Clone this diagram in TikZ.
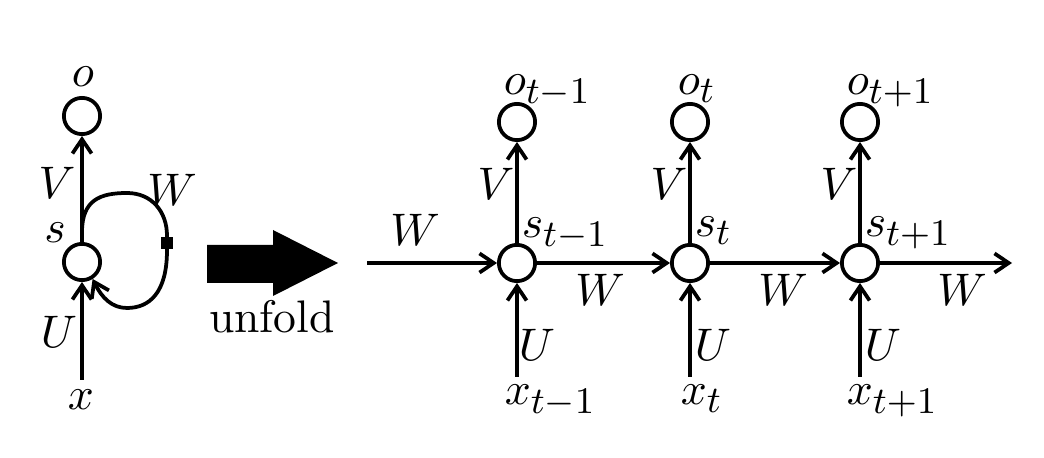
\documentclass[tikz,border=0pt]{standalone}
\usetikzlibrary{arrows.meta}
\DeclareMathSizes{10.95}{10.95}{9}{7}
\begin{document}
\begin{tikzpicture}[x=0.24pt,y=-0.24pt,
  every node/.style={font=\fontsize{10.95}{13}\selectfont},
  unit/.style={circle,draw,line width=0.9pt,minimum size=8.7pt,inner sep=0pt},
  lbl/.style={inner sep=0pt},
  tip/.style={-{Straight Barb[length=3.4pt,width=4.6pt]}},
  conn/.style={line width=0.9pt,tip},
]
\useasboundingbox (0,0) rectangle (1044,458);
% ---------- folded network ----------
\node[unit] (o) at (82,116) {};
\node[unit] (s) at (82,262) {};
\node[lbl,anchor=base] (ol) at (83,87) {$o$};
\node[lbl,anchor=base] (sl) at (55,243) {$s$};
\node[lbl,anchor=base] (xl) at (81,410) {$x$};
\node[lbl] (Vl) at (57,183) {$V$};
\node[lbl] (Ul) at (59,332) {$U$};
\node[lbl] (Wl) at (172,190) {$W$};
\coordinate (xin) at (82,380);
\coordinate (ls) at (82,232);
\node[fill,minimum size=3.1pt,inner sep=0pt] (sq) at (167,243) {};
\draw[conn] (xin) -- (s);
\draw[conn] (s) -- (o);
\draw[conn] (ls) .. controls (82,200) and (100,193) .. (127,193)
  .. controls (152,193) and (167,212) .. (sq.north) -- (sq.south)
  .. controls (167,292) and (150,308) .. (127,308)
  .. controls (112,308) and (102,298) .. (s.-58);
% ---------- unfold arrow ----------
\fill (207,245) -- (273,245) -- (273,230) -- (338,263) -- (273,296) -- (273,283) -- (207,283) -- cycle;
\node[lbl] (unf) at (272,317) {unfold};
% ---------- unfolded network ----------
\node[unit] (s1) at (517,263) {};
\node[unit] (s2) at (690,263) {};
\node[unit] (s3) at (860,263) {};
\node[unit] (o1) at (517,122) {};
\node[unit] (o2) at (690,122) {};
\node[unit] (o3) at (860,122) {};
\node[lbl,anchor=base west] (o1l) at (503,95) {$o_{t-1}$};
\node[lbl,anchor=base west] (o2l) at (677,95) {$o_{t}$};
\node[lbl,anchor=base west] (o3l) at (846,95) {$o_{t+1}$};
\node[lbl,anchor=base west] (s1l) at (521,238) {$s_{t-1}$};
\node[lbl,anchor=base west] (s2l) at (694,237) {$s_{t}$};
\node[lbl,anchor=base west] (s3l) at (864,237) {$s_{t+1}$};
\node[lbl,anchor=base west] (x1l) at (504,405) {$x_{t-1}$};
\node[lbl,anchor=base west] (x2l) at (680,405) {$x_{t}$};
\node[lbl,anchor=base west] (x3l) at (846,405) {$x_{t+1}$};
\node[lbl] (V1) at (496,184) {$V$};
\node[lbl] (V2) at (669,184) {$V$};
\node[lbl] (V3) at (839,184) {$V$};
\node[lbl] (U1) at (537,345) {$U$};
\node[lbl] (U2) at (713,345) {$U$};
\node[lbl] (U3) at (883,345) {$U$};
\node[lbl] (W0) at (415,230) {$W$};
\node[lbl] (W1) at (600,290) {$W$};
\node[lbl] (W2) at (783,290) {$W$};
\node[lbl] (W3) at (962,290) {$W$};
\coordinate (win) at (367,263);
\coordinate (wout) at (1012,263);
\coordinate (x1) at (517,377);
\coordinate (x2) at (690,377);
\coordinate (x3) at (860,377);
\draw[conn] (win) -- (s1);
\draw[conn] (s1) -- (s2);
\draw[conn] (s2) -- (s3);
\draw[conn] (s3) -- (wout);
\draw[conn] (x1) -- (s1);
\draw[conn] (x2) -- (s2);
\draw[conn] (x3) -- (s3);
\draw[conn] (s1) -- (o1);
\draw[conn] (s2) -- (o2);
\draw[conn] (s3) -- (o3);
\end{tikzpicture}
\end{document}
